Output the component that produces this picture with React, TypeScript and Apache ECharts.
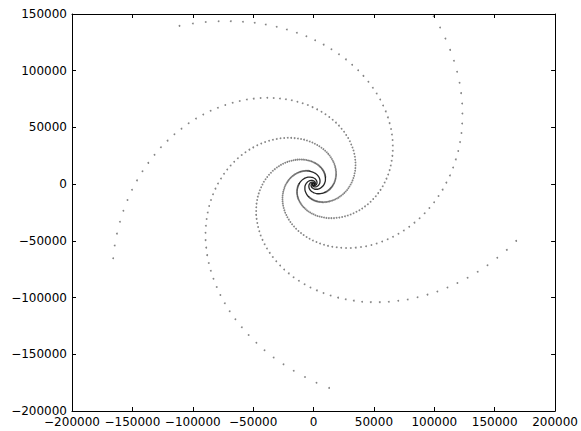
import React, { useEffect, useRef } from "react";
import * as echarts from "echarts";

// Each dot in polar form: [radius in thousands, angle in degrees]
const armA: [number, number][] = [
  [175.1,-16.6],[170.2,-19.9],[165.4,-23.1],[160.8,-26.4],[156.3,-29.6],[151.9,-32.9],[147.6,-36.2],[143.5,-39.4],[139.5,-42.7],[135.6,-45.9],
  [131.8,-49.2],[128.1,-52.5],[124.5,-55.7],[121.0,-59.0],[117.6,-62.2],[114.3,-65.5],[111.2,-68.8],[108.0,-72.0],[105.0,-75.3],[102.1,-78.5],
  [99.2,-81.8],[96.4,-85.1],[93.7,-88.3],[91.1,-91.6],[88.6,-94.8],[86.1,-98.1],[83.7,-101.4],[81.3,-104.6],[79.1,-107.9],[76.8,-111.1],
  [74.7,-114.4],[72.6,-117.7],[70.6,-120.9],[68.6,-124.2],[66.7,-127.4],[64.8,-130.7],[63.0,-134.0],[61.2,-137.2],[59.5,-140.5],[57.8,-143.7],
  [56.2,-147.0],[54.7,-150.3],[53.1,-153.5],[51.6,-156.8],[50.2,-160.0],[48.8,-163.3],[47.4,-166.6],[46.1,-169.8],[44.8,-173.1],[43.5,-176.3],
  [42.3,-179.6],[41.2,-182.9],[40.0,-186.1],[38.9,-189.4],[37.8,-192.6],[36.7,-195.9],[35.7,-199.2],[34.7,-202.4],[33.7,-205.7],[32.8,-208.9],
  [31.9,-212.2],[31.0,-215.5],[30.1,-218.7],[29.3,-222.0],[28.5,-225.2],[27.6,-228.5],[26.9,-231.8],[26.1,-235.0],[25.4,-238.3],[24.7,-241.5],
  [24.0,-244.8],[23.3,-248.1],[22.7,-251.3],[22.0,-254.6],[21.4,-257.8],[20.8,-261.1],[20.2,-264.4],[19.7,-267.6],[19.1,-270.9],[18.6,-274.1],
  [18.1,-277.4],[17.6,-280.7],[17.1,-283.9],[16.6,-287.2],[16.1,-290.4],[15.7,-293.7],[15.2,-297.0],[14.8,-300.2],[14.4,-303.5],[14.0,-306.7],
  [13.6,-310.0],[13.2,-313.3],[12.8,-316.5],[12.5,-319.8],[12.1,-323.0],[11.8,-326.3],
];

const armB: [number, number][] = [
  [180.1,-85.9],[175.1,-89.2],[170.2,-92.4],[165.4,-95.7],[160.8,-98.9],[156.3,-102.2],[151.9,-105.5],[147.6,-108.7],[143.5,-112.0],[139.5,-115.2],
  [135.6,-118.5],[131.8,-121.8],[128.1,-125.0],[124.5,-128.3],[121.0,-131.5],[117.6,-134.8],[114.3,-138.1],[111.2,-141.3],[108.0,-144.6],[105.0,-147.8],
  [102.1,-151.1],[99.2,-154.4],[96.4,-157.6],[93.7,-160.9],[91.1,-164.1],[88.6,-167.4],[86.1,-170.7],[83.7,-173.9],[81.3,-177.2],[79.1,-180.4],
  [76.8,-183.7],[74.7,-187.0],[72.6,-190.2],[70.6,-193.5],[68.6,-196.7],[66.7,-200.0],[64.8,-203.3],[63.0,-206.5],[61.2,-209.8],[59.5,-213.0],
  [57.8,-216.3],[56.2,-219.6],[54.7,-222.8],[53.1,-226.1],[51.6,-229.3],[50.2,-232.6],[48.8,-235.9],[47.4,-239.1],[46.1,-242.4],[44.8,-245.6],
  [43.5,-248.9],[42.3,-252.2],[41.2,-255.4],[40.0,-258.7],[38.9,-261.9],[37.8,-265.2],[36.7,-268.5],[35.7,-271.7],[34.7,-275.0],[33.7,-278.2],
  [32.8,-281.5],[31.9,-284.8],[31.0,-288.0],[30.1,-291.3],[29.3,-294.5],[28.5,-297.8],[27.6,-301.1],[26.9,-304.3],[26.1,-307.6],[25.4,-310.8],
  [24.7,-314.1],[24.0,-317.4],[23.3,-320.6],[22.7,-323.9],[22.0,-327.1],[21.4,-330.4],[20.8,-333.7],[20.2,-336.9],[19.7,-340.2],[19.1,-343.4],
  [18.6,-346.7],[18.1,-350.0],[17.6,-353.2],[17.1,-356.5],[16.6,-359.7],[16.1,-363.0],[15.7,-366.3],[15.2,-369.5],[14.8,-372.8],[14.4,-376.0],
  [14.0,-379.3],[13.6,-382.6],[13.2,-385.8],[12.8,-389.1],[12.5,-392.3],[12.1,-395.6],
];

const armC: [number, number][] = [
  [178.3,-158.5],[173.3,-161.8],[168.5,-165.0],[163.7,-168.3],[159.2,-171.5],[154.7,-174.8],[150.4,-178.1],[146.2,-181.3],[142.1,-184.6],[138.1,-187.8],
  [134.2,-191.1],[130.5,-194.4],[126.8,-197.6],[123.3,-200.9],[119.8,-204.1],[116.5,-207.4],[113.2,-210.7],[110.0,-213.9],[107.0,-217.2],[104.0,-220.4],
  [101.1,-223.7],[98.2,-227.0],[95.5,-230.2],[92.8,-233.5],[90.2,-236.7],[87.7,-240.0],[85.2,-243.3],[82.8,-246.5],[80.5,-249.8],[78.3,-253.0],
  [76.1,-256.3],[73.9,-259.6],[71.9,-262.8],[69.9,-266.1],[67.9,-269.3],[66.0,-272.6],[64.2,-275.9],[62.4,-279.1],[60.6,-282.4],[58.9,-285.6],
  [57.3,-288.9],[55.7,-292.2],[54.1,-295.4],[52.6,-298.7],[51.1,-301.9],[49.7,-305.2],[48.3,-308.5],[46.9,-311.7],[45.6,-315.0],[44.4,-318.2],
  [43.1,-321.5],[41.9,-324.8],[40.7,-328.0],[39.6,-331.3],[38.5,-334.5],[37.4,-337.8],[36.4,-341.1],[35.3,-344.3],[34.4,-347.6],[33.4,-350.8],
  [32.5,-354.1],[31.6,-357.4],[30.7,-360.6],[29.8,-363.9],[29.0,-367.1],[28.2,-370.4],[27.4,-373.7],[26.6,-376.9],[25.9,-380.2],[25.1,-383.4],
  [24.4,-386.7],[23.8,-390.0],[23.1,-393.2],[22.4,-396.5],[21.8,-399.7],[21.2,-403.0],[20.6,-406.3],[20.0,-409.5],[19.5,-412.8],[18.9,-416.0],
  [18.4,-419.3],[17.9,-422.6],[17.4,-425.8],[16.9,-429.1],[16.4,-432.3],[16.0,-435.6],[15.5,-438.9],[15.1,-442.1],[14.7,-445.4],[14.3,-448.6],
  [13.8,-451.9],[13.5,-455.2],[13.1,-458.4],[12.7,-461.7],[12.4,-464.9],[12.0,-468.2],
];

const armD: [number, number][] = [
  [178.3,128.5],[173.3,125.2],[168.5,122.0],[163.7,118.7],[159.2,115.5],[154.7,112.2],[150.4,108.9],[146.2,105.7],[142.1,102.4],[138.1,99.2],
  [134.2,95.9],[130.5,92.6],[126.8,89.4],[123.3,86.1],[119.8,82.9],[116.5,79.6],[113.2,76.3],[110.0,73.1],[107.0,69.8],[104.0,66.6],
  [101.1,63.3],[98.2,60.0],[95.5,56.8],[92.8,53.5],[90.2,50.3],[87.7,47.0],[85.2,43.7],[82.8,40.5],[80.5,37.2],[78.3,34.0],
  [76.1,30.7],[73.9,27.4],[71.9,24.2],[69.9,20.9],[67.9,17.7],[66.0,14.4],[64.2,11.1],[62.4,7.9],[60.6,4.6],[58.9,1.4],
  [57.3,-1.9],[55.7,-5.2],[54.1,-8.4],[52.6,-11.7],[51.1,-14.9],[49.7,-18.2],[48.3,-21.5],[46.9,-24.7],[45.6,-28.0],[44.4,-31.2],
  [43.1,-34.5],[41.9,-37.8],[40.7,-41.0],[39.6,-44.3],[38.5,-47.5],[37.4,-50.8],[36.4,-54.1],[35.3,-57.3],[34.4,-60.6],[33.4,-63.8],
  [32.5,-67.1],[31.6,-70.4],[30.7,-73.6],[29.8,-76.9],[29.0,-80.1],[28.2,-83.4],[27.4,-86.7],[26.6,-89.9],[25.9,-93.2],[25.1,-96.4],
  [24.4,-99.7],[23.8,-103.0],[23.1,-106.2],[22.4,-109.5],[21.8,-112.7],[21.2,-116.0],[20.6,-119.3],[20.0,-122.5],[19.5,-125.8],[18.9,-129.0],
  [18.4,-132.3],[17.9,-135.6],[17.4,-138.8],[16.9,-142.1],[16.4,-145.3],[16.0,-148.6],[15.5,-151.9],[15.1,-155.1],[14.7,-158.4],[14.3,-161.6],
  [13.8,-164.9],[13.5,-168.2],[13.1,-171.4],[12.7,-174.7],[12.4,-177.9],[12.0,-181.2],
];

const armE: [number, number][] = [
  [178.3,56.1],[173.3,52.8],[168.5,49.6],[163.7,46.3],[159.2,43.1],[154.7,39.8],[150.4,36.5],[146.2,33.3],[142.1,30.0],[138.1,26.8],
  [134.2,23.5],[130.5,20.2],[126.8,17.0],[123.3,13.7],[119.8,10.5],[116.5,7.2],[113.2,3.9],[110.0,0.7],[107.0,-2.6],[104.0,-5.8],
  [101.1,-9.1],[98.2,-12.4],[95.5,-15.6],[92.8,-18.9],[90.2,-22.1],[87.7,-25.4],[85.2,-28.7],[82.8,-31.9],[80.5,-35.2],[78.3,-38.4],
  [76.1,-41.7],[73.9,-45.0],[71.9,-48.2],[69.9,-51.5],[67.9,-54.7],[66.0,-58.0],[64.2,-61.3],[62.4,-64.5],[60.6,-67.8],[58.9,-71.0],
  [57.3,-74.3],[55.7,-77.6],[54.1,-80.8],[52.6,-84.1],[51.1,-87.3],[49.7,-90.6],[48.3,-93.9],[46.9,-97.1],[45.6,-100.4],[44.4,-103.6],
  [43.1,-106.9],[41.9,-110.2],[40.7,-113.4],[39.6,-116.7],[38.5,-119.9],[37.4,-123.2],[36.4,-126.5],[35.3,-129.7],[34.4,-133.0],[33.4,-136.2],
  [32.5,-139.5],[31.6,-142.8],[30.7,-146.0],[29.8,-149.3],[29.0,-152.5],[28.2,-155.8],[27.4,-159.1],[26.6,-162.3],[25.9,-165.6],[25.1,-168.8],
  [24.4,-172.1],[23.8,-175.4],[23.1,-178.6],[22.4,-181.9],[21.8,-185.1],[21.2,-188.4],[20.6,-191.7],[20.0,-194.9],[19.5,-198.2],[18.9,-201.4],
  [18.4,-204.7],[17.9,-208.0],[17.4,-211.2],[16.9,-214.5],[16.4,-217.7],[16.0,-221.0],[15.5,-224.3],[15.1,-227.5],[14.7,-230.8],[14.3,-234.0],
  [13.8,-237.3],[13.5,-240.6],[13.1,-243.8],[12.7,-247.1],[12.4,-250.3],[12.0,-253.6],
];

// Dense cores of the arms (dots merge into solid curves near the centre)
const armACore: [number, number][] = [
  [11.8,-326.3],[10.5,-339.3],[9.39,-352.4],[8.38,-365.4],[7.49,-378.5],[6.68,-391.5],[5.97,-404.5],[5.33,-417.6],[4.76,-430.6],[4.25,-443.7],
  [3.79,-456.7],[3.38,-469.7],[3.02,-482.8],[2.70,-495.8],[2.41,-508.9],[2.15,-521.9],[1.92,-534.9],[1.71,-548.0],[1.53,-561.0],[1.37,-574.1],
  [1.22,-587.1],[1.09,-600.1],[0.97,-613.2],[0.87,-626.2],[0.77,-639.3],[0.69,-652.3],[0.62,-665.4],[0.55,-678.4],[0.49,-691.4],[0.44,-704.5],
  [0.39,-717.5],[0.35,-730.6],[0.31,-743.6],
];
const armBCore: [number, number][] = [
  [12.1,-395.6],[10.8,-408.6],[9.64,-421.7],[8.61,-434.7],[7.68,-447.8],[6.86,-460.8],[6.12,-473.8],[5.47,-486.9],[4.88,-499.9],[4.36,-513.0],
  [3.89,-526.0],[3.47,-539.0],[3.10,-552.1],[2.77,-565.1],[2.47,-578.2],[2.21,-591.2],[1.97,-604.2],[1.76,-617.3],[1.57,-630.3],[1.40,-643.4],
  [1.25,-656.4],[1.12,-669.4],[1.00,-682.5],[0.89,-695.5],[0.80,-708.6],[0.71,-721.6],[0.63,-734.6],[0.57,-747.7],[0.51,-760.7],[0.45,-773.8],
  [0.40,-786.8],[0.36,-799.8],[0.32,-812.9],
];
const armCCore: [number, number][] = [
  [12.0,-468.2],[10.7,-481.2],[9.54,-494.3],[8.52,-507.3],[7.60,-520.4],[6.79,-533.4],[6.06,-546.4],[5.41,-559.5],[4.83,-572.5],[4.31,-585.6],
  [3.85,-598.6],[3.44,-611.6],[3.07,-624.7],[2.74,-637.7],[2.45,-650.8],[2.18,-663.8],[1.95,-676.8],[1.74,-689.9],[1.55,-702.9],[1.39,-716.0],
  [1.24,-729.0],[1.11,-742.0],[0.99,-755.1],[0.88,-768.1],[0.79,-781.2],[0.70,-794.2],[0.63,-807.2],[0.56,-820.3],[0.50,-833.3],[0.45,-846.4],
  [0.40,-859.4],[0.36,-872.4],[0.32,-885.5],
];
const armDCore: [number, number][] = [
  [12.0,-181.2],[10.7,-194.2],[9.54,-207.3],[8.52,-220.3],[7.60,-233.4],[6.79,-246.4],[6.06,-259.4],[5.41,-272.5],[4.83,-285.5],[4.31,-298.6],
  [3.85,-311.6],[3.44,-324.6],[3.07,-337.7],[2.74,-350.7],[2.45,-363.8],[2.18,-376.8],[1.95,-389.8],[1.74,-402.9],[1.55,-415.9],[1.39,-429.0],
  [1.24,-442.0],[1.11,-455.0],[0.99,-468.1],[0.88,-481.1],[0.79,-494.2],[0.70,-507.2],[0.63,-520.2],[0.56,-533.3],[0.50,-546.3],[0.45,-559.4],
  [0.40,-572.4],[0.36,-585.4],[0.32,-598.5],
];
const armECore: [number, number][] = [
  [12.0,-253.6],[10.7,-266.6],[9.54,-279.7],[8.52,-292.7],[7.60,-305.8],[6.79,-318.8],[6.06,-331.8],[5.41,-344.9],[4.83,-357.9],[4.31,-371.0],
  [3.85,-384.0],[3.44,-397.0],[3.07,-410.1],[2.74,-423.1],[2.45,-436.2],[2.18,-449.2],[1.95,-462.2],[1.74,-475.3],[1.55,-488.3],[1.39,-501.4],
  [1.24,-514.4],[1.11,-527.4],[0.99,-540.5],[0.88,-553.5],[0.79,-566.6],[0.70,-579.6],[0.63,-592.6],[0.56,-605.7],[0.50,-618.7],[0.45,-631.8],
  [0.40,-644.8],[0.36,-657.8],[0.32,-670.9],
];

const xTicks = [-200000, -150000, -100000, -50000, 0, 50000, 100000, 150000, 200000];
const yTicks = [-200000, -150000, -100000, -50000, 0, 50000, 100000, 150000];

const toXY = (pts: [number, number][]) =>
  pts.map(([r, deg]) => {
    const a = (deg * Math.PI) / 180;
    return [r * 1000 * Math.cos(a), r * 1000 * Math.sin(a)];
  });

const minus = (v: number) => String(v).replace("-", "\u2212");

export default function App() {
  const ref = useRef<HTMLDivElement>(null);
  useEffect(() => {
    if (!ref.current) return;
    const chart = echarts.init(ref.current, undefined, { renderer: "svg" });
    const font = { fontFamily: "DejaVu Sans", fontSize: 12, color: "#000" };
    const line = { show: true, onZero: false, lineStyle: { color: "#000", width: 1 } };
    const tick = { show: true, inside: true, length: 4, lineStyle: { color: "#000", width: 1 } };
    const xBase = { type: "value", min: xTicks[0], max: xTicks[xTicks.length - 1], interval: xTicks[1] - xTicks[0], splitLine: { show: false }, axisLine: line, axisTick: tick };
    const yBase = { type: "value", min: yTicks[0], max: yTicks[yTicks.length - 1], interval: yTicks[1] - yTicks[0], splitLine: { show: false }, axisLine: line, axisTick: tick };
    const arms = [armA, armB, armC, armD, armE];
    const cores = [armACore, armBCore, armCCore, armDCore, armECore];
    chart.setOption({
      animation: false,
      backgroundColor: "#fff",
      grid: { left: 72, top: 14, width: 485, height: 397, containLabel: false },
      xAxis: [
        { ...xBase, position: "bottom", axisLabel: { ...font, margin: 5, formatter: minus, showMinLabel: true, showMaxLabel: true } },
        { ...xBase, position: "top", axisLabel: { show: false } },
      ],
      yAxis: [
        { ...yBase, position: "left", axisLabel: { ...font, margin: 5, formatter: minus, showMinLabel: true, showMaxLabel: true } },
        { ...yBase, position: "right", axisLabel: { show: false } },
      ],
      series: [
        {
          type: "scatter",
          data: arms.flatMap((a) => toXY(a)),
          symbol: "circle",
          symbolSize: 1.8,
          itemStyle: { color: "rgba(0,0,0,0.6)" },
          silent: true,
        },
        ...cores.map((c) => ({
          type: "line",
          data: toXY(c),
          symbol: "none",
          showSymbol: false,
          smooth: true,
          lineStyle: { color: "rgba(0,0,0,0.85)", width: 1.3 },
          silent: true,
        })),
      ],
    });
    return () => chart.dispose();
  }, []);
  return <div ref={ref} style={{ position: "absolute", left: 0, top: 0, width: 581, height: 431 }} />;
}
